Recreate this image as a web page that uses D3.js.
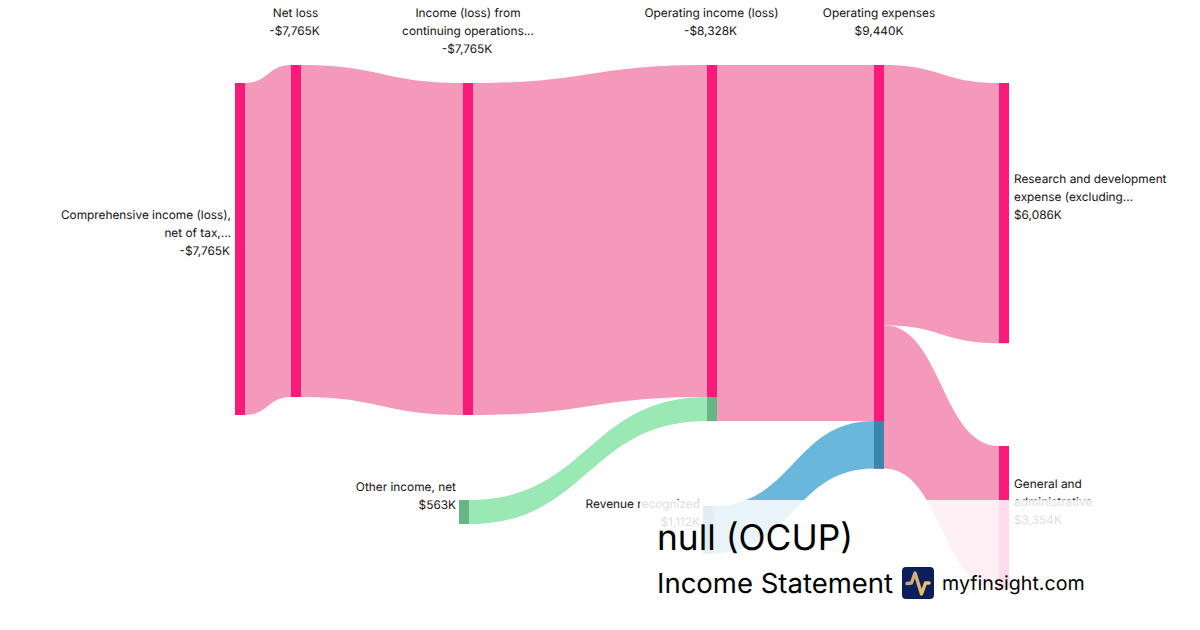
<!DOCTYPE html>
<html>
<head>
<meta charset="utf-8">
<script src="https://cdn.jsdelivr.net/npm/d3@7/dist/d3.min.js"></script>
<style>
html,body{margin:0;padding:0;background:#fff;}
svg{display:block;font-family:Inter,sans-serif;text-rendering:geometricPrecision;}
</style>
</head>
<body>
<svg id="chart" width="1200" height="630"></svg>
<script>
// ---- data ----
const nodeIds = ["comp","net","cont","opinc","opexp","rnd","ga","other","rev"];
const nodeLabels = [
  ["Comprehensive income (loss),","net of tax,..."],
  ["Net loss"],
  ["Income (loss) from","continuing operations..."],
  ["Operating income (loss)"],
  ["Operating expenses"],
  ["Research and development","expense (excluding..."],
  ["General and","administrative"],
  ["Other income, net"],
  ["Revenue recognized"]
];
const nodeValues = [-7765,-7765,-7765,-8328,9440,6086,3354,563,1112];
const nodeKinds  = ["loss","loss","loss","loss","loss","loss","loss","gain","revenue"];
// vertical offset of each node's top, in $K below the top of the chart
const nodeOffsets = [421,0,421,0,0,421,8910,10173,10313];

const linkSources = ["comp","net","cont","opinc","other","opexp","opexp","rev"];
const linkTargets = ["net","cont","opinc","opexp","opinc","rnd","ga","opexp"];
const linkValues  = [7765,7765,7765,8328,563,6086,3354,1112];
const linkKinds   = ["loss","loss","loss","loss","gain","loss","loss","revenue"];
// order links enter each target, top first
const inOrder = {opinc:["cont","other"],opexp:["opinc","rev"]};

const titleText = "null (OCUP)";
const subtitleText = "Income Statement";
const brandText = "myfinsight.com";

// ---- scales ----
const svg = d3.select("#chart");
const nodeWidth = 10;
const x = d3.scaleOrdinal().domain(nodeIds).range([235,291,463,707,874,999,999,459,703]);
const y = d3.scaleLinear().domain([0,7765]).range([65,397]);
const h = v => y(v)-y(0);
const linkColor = d3.scaleOrdinal().domain(["loss","gain","revenue"]).range(["#f599bb","#9ae8b4","#6ab7dc"]);
const nodeColor = d3.scaleOrdinal().domain(["loss","gain","revenue"]).range(["#f91a7c","#66b585","#3a85ad"]);
const fmt = v => (v<0?"-":"")+"$"+d3.format(",")(Math.abs(v))+"K";

// ---- layout: stack links inside their nodes ----
const nodes = nodeIds.map((id,i)=>({id,i,value:nodeValues[i],kind:nodeKinds[i],top:nodeOffsets[i],outUsed:0,inUsed:0}));
const byId = new Map(nodes.map(n=>[n.id,n]));
const links = linkSources.map((s,i)=>({source:byId.get(s),target:byId.get(linkTargets[i]),value:linkValues[i],kind:linkKinds[i]}));
links.forEach(l=>{ l.y0=l.source.top+l.source.outUsed; l.source.outUsed+=l.value; });
nodeIds.forEach(id=>{
  const incoming = links.filter(l=>l.target.id===id);
  const order = inOrder[id];
  if(order) incoming.sort((a,b)=>order.indexOf(a.source.id)-order.indexOf(b.source.id));
  incoming.forEach(l=>{ l.y1=l.target.top+l.target.inUsed; l.target.inUsed+=l.value; });
});

// ---- ribbons ----
function ribbon(l){
  const x0=x(l.source.id)+nodeWidth, x1=x(l.target.id), xm=(x0+x1)/2;
  const a=y(l.y0), b=y(l.y1), c=y(l.y1+l.value), d=y(l.y0+l.value);
  const p=d3.path();
  p.moveTo(x0,a);
  p.bezierCurveTo(xm,a,xm,b,x1,b);
  p.lineTo(x1,c);
  p.bezierCurveTo(xm,c,xm,d,x0,d);
  p.closePath();
  return p.toString();
}
svg.append("g").selectAll("path").data(links).join("path")
  .attr("d",ribbon).attr("fill",d=>linkColor(d.kind));

// ---- nodes, with a coloured block where a different kind of flow enters ----
svg.append("g").selectAll("rect").data(nodes).join("rect")
  .attr("x",d=>x(d.id)).attr("y",d=>y(d.top))
  .attr("width",nodeWidth).attr("height",d=>h(Math.abs(d.value)))
  .attr("fill",d=>nodeColor(d.kind));
svg.append("g").selectAll("rect").data(links.filter(l=>l.kind!==l.target.kind)).join("rect")
  .attr("x",d=>x(d.target.id)).attr("y",d=>y(d.y1))
  .attr("width",nodeWidth).attr("height",d=>h(d.value))
  .attr("fill",d=>nodeColor(d.kind));

// ---- node labels ----
const labelPlace = {
  comp:{a:"end",dx:-4,y:215},net:{a:"middle",dx:4.5,y:13},cont:{a:"middle",dx:5,y:13},
  opinc:{a:"middle",dx:4.5,y:13},opexp:{a:"middle",dx:5,y:13},
  rnd:{a:"start",dx:15,y:179},ga:{a:"start",dx:15,y:484},
  other:{a:"end",dx:-3,y:487},rev:{a:"end",dx:-3,y:504}
};
const labelG = svg.append("g").attr("font-size",11.85).attr("fill","#111");
nodes.forEach(n=>{
  const pl=labelPlace[n.id];
  const lines=[...nodeLabels[n.i],fmt(n.value)];
  lines.forEach((t,j)=>{
    const shift = (j===lines.length-1 && n.value<0) ? -1 : 0;
    labelG.append("text").attr("x",x(n.id)+pl.dx+shift).attr("y",pl.y+j*18)
      .attr("dy","0.35em").attr("text-anchor",pl.a).text(t);
  });
});

// ---- fading panel and title block ----
svg.append("rect").attr("x",640).attr("y",500).attr("width",560).attr("height",130)
  .attr("fill","#fff").attr("fill-opacity",0.85);
svg.append("text").attr("x",657).attr("y",550).attr("font-size",35.3).attr("fill","#000").text(titleText);
svg.append("text").attr("x",657).attr("y",593).attr("font-size",27.5).attr("fill","#000").text(subtitleText);
svg.append("text").attr("x",942).attr("y",590).attr("font-size",19.6).attr("fill","#000").text(brandText);

const defs=svg.append("defs");
const grad=defs.append("linearGradient").attr("id","logoGrad").attr("x1","0").attr("x2","1");
grad.append("stop").attr("offset","0").attr("stop-color","#c9a080");
grad.append("stop").attr("offset","1").attr("stop-color","#f2c861");
svg.append("rect").attr("x",902).attr("y",567).attr("width",32).attr("height",32).attr("rx",4).attr("fill","#0a1f5c");
svg.append("path").attr("d","M907 583.5 L911.5 583 L915 573 L921.5 594 L925.5 583 L929 583")
  .attr("fill","none").attr("stroke","url(#logoGrad)").attr("stroke-width",3.4)
  .attr("stroke-linecap","round").attr("stroke-linejoin","round");
</script>
</body>
</html>
